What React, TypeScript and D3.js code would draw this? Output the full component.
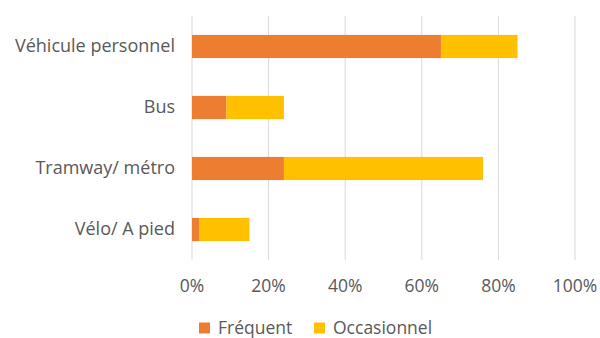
import React from "react";
import * as d3 from "d3";

const categories = ["Véhicule personnel", "Bus", "Tramway/ métro", "Vélo/ A pied"];
const frequent = [65, 9, 24, 2];
const occasionnel = [20, 15, 52, 13];
const seriesNames = ["Fréquent", "Occasionnel"];
const seriesColors = ["#ED7D31", "#FFC000"];
const ticks = [0, 20, 40, 60, 80, 100];

export default function App() {
  const W = 600, H = 338;
  const x = d3.scaleLinear().domain([0, 100]).range([192, 575]);
  const y = d3.scaleBand().domain(categories).range([16, 260]).paddingInner(0.62).paddingOuter(0.31);
  const font = "'Open Sans', sans-serif";
  const fs = 17.5;
  const rows = categories.map((c, i) => ({ c, vals: [frequent[i], occasionnel[i]] }));
  return (
    <svg width={W} height={H} style={{ position: "absolute", left: 0, top: 0 }}>
      <rect width={W} height={H} fill="#fff" />
      {ticks.map((t) => (
        <g key={t}>
          <line x1={x(t)} x2={x(t)} y1={16} y2={260} stroke="#d9d9d9" strokeWidth={1} />
          <text x={x(t)} y={291.5} textAnchor="middle" fontFamily={font} fontSize={fs} fill="#595959">{t}%</text>
        </g>
      ))}
      {rows.map((r) => {
        let acc = 0;
        return (
          <g key={r.c}>
            {r.vals.map((v, j) => {
              const x0 = x(acc);
              acc += v;
              return <rect key={j} x={x0} y={y(r.c)!} width={x(acc) - x0} height={y.bandwidth()} fill={seriesColors[j]} />;
            })}
            <text x={175} y={y(r.c)! + y.bandwidth() / 2 + 5.5} textAnchor="end" fontFamily={font} fontSize={18} fill="#595959">{r.c}</text>
          </g>
        );
      })}
      {seriesNames.map((n, i) => {
        const lx = [199, 314][i];
        return (
          <g key={n}>
            <rect x={lx} y={322.5} width={11} height={11} fill={seriesColors[i]} />
            <text x={lx + 19} y={333.5} fontFamily={font} fontSize={fs} fill="#595959">{n}</text>
          </g>
        );
      })}
    </svg>
  );
}
